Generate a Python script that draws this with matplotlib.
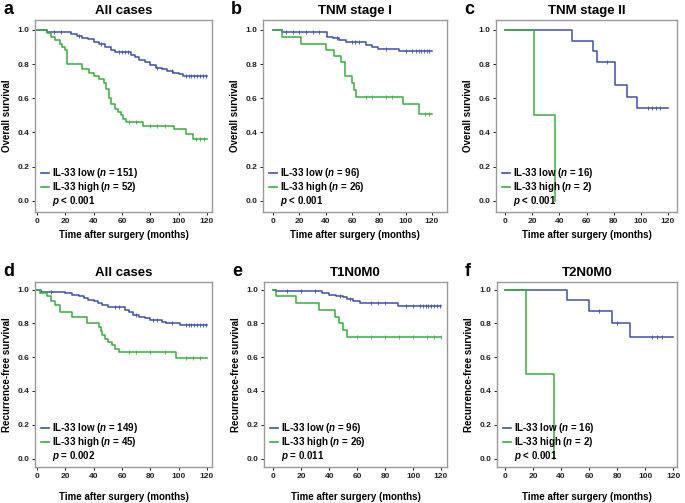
import numpy as np
import matplotlib
matplotlib.use('Agg')
import matplotlib.pyplot as plt
from matplotlib.lines import Line2D

plt.rcParams['font.family'] = ['Liberation Sans', 'DejaVu Sans']
plt.rcParams['font.weight'] = 'bold'
plt.rcParams['mathtext.fontset'] = 'custom'
plt.rcParams['mathtext.it'] = 'Liberation Sans:italic:bold'

BLUE = '#3f51a8'
GREEN = '#3aae3f'

# ---- data (event times, survival after each event, censor times) ----
# a: all cases, overall survival
a_low_t = [7, 20, 24, 28, 32, 36, 40, 44, 48, 52, 55, 66, 69, 72, 76, 80, 84, 88, 92, 96, 100, 103]
a_low_s = [0.99, 0.985, 0.975, 0.965, 0.955, 0.945, 0.93, 0.915, 0.90, 0.885, 0.87, 0.855, 0.84,
           0.825, 0.81, 0.795, 0.78, 0.77, 0.76, 0.75, 0.74, 0.728]
a_low_c = [12, 17, 30, 45, 58, 60, 62, 64, 85, 95, 105, 107, 109, 111, 113, 115, 117, 119]
a_high_t = [7, 10, 13, 16, 18, 20, 21, 32, 37, 40, 44, 47, 49, 51, 52, 55, 57, 59, 61, 63, 75, 97, 105, 110]
a_high_s = [0.98, 0.96, 0.94, 0.92, 0.90, 0.88, 0.80, 0.77, 0.75, 0.73, 0.71, 0.69, 0.655, 0.60, 0.565,
            0.54, 0.52, 0.50, 0.48, 0.46, 0.44, 0.42, 0.39, 0.36]
a_high_c = [65, 70, 80, 85, 90, 112, 115, 118]

# b: TNM stage I, overall survival
b_low_t = [7, 41, 45, 50, 55, 70, 75, 79, 95]
b_low_s = [0.99, 0.96, 0.955, 0.94, 0.93, 0.91, 0.90, 0.89, 0.875]
b_low_c = [10, 15, 20, 25, 30, 35, 48, 60, 62, 65, 85, 100, 105, 108, 110, 112, 114, 116, 118]
b_high_t = [7, 21, 40, 46, 51, 54, 60, 61, 63, 98, 110]
b_high_s = [0.96, 0.92, 0.88, 0.85, 0.81, 0.73, 0.69, 0.65, 0.61, 0.565, 0.51]
b_high_c = [70, 75, 85, 90, 115, 118]

# c: TNM stage II, overall survival
c_low_t = [49, 65, 68, 81, 90, 97]
c_low_s = [0.9375, 0.875, 0.8125, 0.677, 0.609, 0.541]
c_low_c = [75, 105, 108, 111, 114]
c_high_t = [21, 37]
c_high_s = [0.5, 0.0]
c_high_c = []

# d: all cases, recurrence-free survival
d_low_t = [3, 20, 25, 30, 33, 36, 40, 43, 46, 50, 62, 65, 68, 72, 76, 80, 88, 91, 101]
d_low_s = [0.985, 0.98, 0.97, 0.96, 0.95, 0.94, 0.93, 0.92, 0.91, 0.895, 0.88, 0.865, 0.85,
           0.84, 0.83, 0.82, 0.81, 0.80, 0.79]
d_low_c = [10, 55, 58, 70, 82, 85, 95, 105, 107, 109, 111, 113, 115, 117, 119]
d_high_t = [2, 7, 10, 13, 16, 25, 35, 44, 45, 46, 48, 50, 53, 55, 58, 98]
d_high_s = [0.98, 0.96, 0.93, 0.91, 0.87, 0.84, 0.80, 0.78, 0.755, 0.73, 0.71, 0.69, 0.67,
            0.65, 0.63, 0.595]
d_high_c = [65, 70, 80, 90, 105, 110, 115]

# e: T1N0M0, recurrence-free survival
e_low_t = [2, 35, 40, 45, 50, 53, 57, 62, 89]
e_low_s = [0.99, 0.98, 0.97, 0.965, 0.955, 0.945, 0.935, 0.92, 0.90]
e_low_c = [10, 20, 30, 48, 55, 70, 75, 80, 95, 100, 105, 107, 109, 111, 113, 115, 117, 119]
e_high_t = [2, 16, 33, 44, 47, 50, 53]
e_high_s = [0.96, 0.92, 0.88, 0.84, 0.80, 0.76, 0.72]
e_high_c = [60, 70, 80, 90, 100, 110, 115, 120]

# f: T2N0M0, recurrence-free survival
f_low_t = [44, 60, 76, 89]
f_low_s = [0.9375, 0.875, 0.80, 0.72]
f_low_c = [67, 80, 105, 108, 112]
f_high_t = [15, 35]
f_high_s = [0.5, 0.0]
f_high_c = []

panels = [
    ('a', 'All cases', 'Overall survival', (a_low_t, a_low_s, a_low_c), (a_high_t, a_high_s, a_high_c),
     151, 52, '$\\it{p}$ < 0.001'),
    ('b', 'TNM stage I', 'Overall survival', (b_low_t, b_low_s, b_low_c), (b_high_t, b_high_s, b_high_c),
     96, 26, '$\\it{p}$ < 0.001'),
    ('c', 'TNM stage II', 'Overall survival', (c_low_t, c_low_s, c_low_c), (c_high_t, c_high_s, c_high_c),
     16, 2, '$\\it{p}$ < 0.001'),
    ('d', 'All cases', 'Recurrence-free survival', (d_low_t, d_low_s, d_low_c), (d_high_t, d_high_s, d_high_c),
     149, 45, '$\\it{p}$ = 0.002'),
    ('e', 'T1N0M0', 'Recurrence-free survival', (e_low_t, e_low_s, e_low_c), (e_high_t, e_high_s, e_high_c),
     96, 26, '$\\it{p}$ = 0.011'),
    ('f', 'T2N0M0', 'Recurrence-free survival', (f_low_t, f_low_s, f_low_c), (f_high_t, f_high_s, f_high_c),
     16, 2, '$\\it{p}$ < 0.001'),
]

# axes boxes in pixels: (left, right, top, bottom), xlim
W, H = 685, 503
boxes = [
    (35, 212, 20, 212, (-1.4, 123.5)),
    (263, 447, 20, 212, (-7.5, 131.3)),
    (496, 677, 20, 212, (-6.6, 126.6)),
    (35, 212, 282, 467, (-1.4, 123.5)),
    (264, 447, 282, 467, (-6.7, 124.3)),
    (497, 677, 282, 467, (-5.7, 122.6)),
]


def km_curve(ax, t, s, c, color):
    end = 120 if s[-1] > 0 else t[-1]
    x = [0] + list(t) + [end]
    y = [1.0] + list(s) + [s[-1]]
    ax.step(x, y, where='post', color=color, lw=1.1)
    if len(c):
        c = np.array(c, dtype=float)
        idx = np.searchsorted(np.array(t), c, side='right')
        cy = np.array([1.0] + list(s))[idx]
        ax.plot(c, cy, linestyle='none', marker='|', markersize=2.5, mew=0.6, color=color)


fig = plt.figure(figsize=(W / 100, H / 100), dpi=100)

for i, (letter, title, ylab, low, high, n_low, n_high, ptxt) in enumerate(panels):
    l, r, t, b, xl = boxes[i]
    ax = fig.add_axes([l / W, (H - b) / H, (r - l) / W, (b - t) / H])
    km_curve(ax, *low, BLUE)
    km_curve(ax, *high, GREEN)
    ax.set_xlim(*xl)
    if i < 3:
        ax.set_ylim(-0.065, 1.058)
    else:
        ax.set_ylim(-0.05, 1.045)
    ax.set_xticks([0, 20, 40, 60, 80, 100, 120])
    ax.set_yticks([0.0, 0.2, 0.4, 0.6, 0.8, 1.0])
    ax.set_yticklabels(['0.0', '0.2', '0.4', '0.6', '0.8', '1.0'])
    ax.tick_params(labelsize=6, length=2.5, width=0.7, pad=1.5, colors='#222222')
    for sp in ax.spines.values():
        sp.set_color('#9a9a9a')
        sp.set_linewidth(1.0)
    ax.set_title(title, fontsize=9.5, fontweight='bold', pad=4)
    ax.set_xlabel('Time after surgery (months)', fontsize=7, fontweight='bold',
                  labelpad=4 if i < 3 else 9)
    ax.set_ylabel(ylab, fontsize=7, fontweight='bold', labelpad=4)
    fig.text((l - 32) / W, (H - t + 2) / H, letter, fontsize=13, fontweight='bold', va='bottom')

    handles = [Line2D([], [], color=BLUE, lw=1.2),
               Line2D([], [], color=GREEN, lw=1.2),
               Line2D([], [], color='none')]
    labels = ['IL-33 low ($\\it{n}$ = %d)' % n_low,
              'IL-33 high ($\\it{n}$ = %d)' % n_high,
              ptxt]
    ax.legend(handles, labels, loc='lower left', frameon=False, fontsize=7,
              handlelength=0.8, handletextpad=0.3, labelspacing=0.0,
              borderaxespad=0.2, bbox_to_anchor=(0.0, -0.01))

fig.savefig('out.png', dpi=100)
